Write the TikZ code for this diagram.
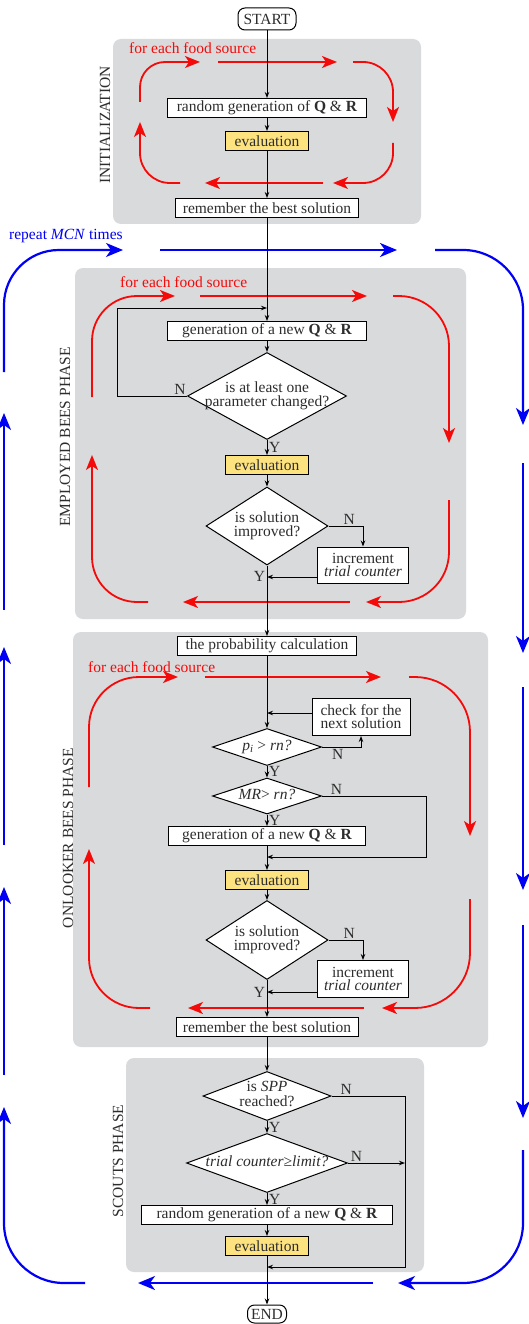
\documentclass[tikz,border=0pt]{standalone}
\usepackage{fontspec}
\setmainfont{Liberation Serif}
\usetikzlibrary{arrows.meta,shapes.geometric}
\definecolor{phasegray}{RGB}{217,218,219}
\definecolor{evalyellow}{RGB}{253,226,128}
\definecolor{txtgray}{RGB}{45,45,45}
\definecolor{srcred}{RGB}{245,10,10}
\definecolor{mcnblue}{RGB}{0,0,245}
\newcommand{\decisiontext}[1]{\makebox[0pt]{\begin{tabular}{@{}c@{}}#1\end{tabular}}}
\tikzset{
	box/.style={draw,rectangle,fill=white,align=center,line width=1pt,inner sep=2pt,minimum height=19pt,text=txtgray},
	evalbox/.style={box,fill=evalyellow,minimum width=83pt},
	terminal/.style={box,rounded corners=7pt},
	decision/.style={draw,diamond,fill=white,line width=1pt,inner sep=0pt,text=txtgray},
	phase/.style={fill=phasegray,rounded corners=8pt},
	phaselabel/.style={rotate=90,text=txtgray},
	yn/.style={text=txtgray,inner sep=1.5pt},
	flow/.style={line width=1pt,-{Stealth[length=6pt,width=4.5pt]}},
	srcarrow/.style={srcred,line width=1.8pt,-{Stealth[length=15pt,width=12pt,inset=4pt]}},
	mcnarrow/.style={mcnblue,line width=2.2pt,-{Stealth[length=17pt,width=14pt,inset=5pt]}}
}
\begin{document}
\begin{tikzpicture}[x=1pt,y=-1pt,every node/.append style={font=\fontsize{15.5}{13}\selectfont}]
	\useasboundingbox (0,0) rectangle (529,1324);
	
	% phase backgrounds
	\fill[phase] (113,39) rectangle (421,224);
	\fill[phase] (75,268) rectangle (466,619);
	\fill[phase] (73,632) rectangle (488,1047);
	\fill[phase] (126,1058) rectangle (424,1272);
	
	\node[phaselabel] (linit) at (105,125) {INITIALIZATION};
	\node[phaselabel] (lemp) at (65,437) {EMPLOYED BEES PHASE};
	\node[phaselabel] (lonl) at (68,838) {ONLOOKER BEES PHASE};
	\node[phaselabel] (lsct) at (118,1161) {SCOUTS PHASE};
	
	% for each food source
	\node[anchor=west,text=srcred,inner sep=0pt] (fe0) at (129,48) {for each food source};
	\draw[srcarrow,rounded corners=25pt] (140,102) |- (200,62);
	\draw[srcarrow] (218,62) -- (337,62);
	\draw[srcarrow,rounded corners=30pt] (353,62) -| (393,122);
	\draw[srcarrow,rounded corners=30pt] (393,143) |- (333,183);
	\draw[srcarrow] (323,183) -- (205,183);
	\draw[srcarrow,rounded corners=30pt] (180,183) -| (140,122);
	
	\node[anchor=west,text=srcred,inner sep=0pt] (fe1) at (120,282) {for each food source};
	\draw[srcarrow,rounded corners=45pt] (92,397) |- (175,296);
	\draw[srcarrow] (200,296) -- (367,296);
	\draw[srcarrow,rounded corners=50pt] (393,296) -| (449,443);
	\draw[srcarrow,rounded corners=50pt] (449,500) |- (366,602);
	\draw[srcarrow] (350,602) -- (183,602);
	\draw[srcarrow,rounded corners=45pt] (148,602) -| (92,455);
	
	\node[anchor=west,text=srcred,inner sep=0pt] (fe2) at (88,667) {for each food source};
	\draw[srcarrow,rounded corners=50pt] (89,787) |- (178,677);
	\draw[srcarrow] (205,677) -- (381,677);
	\draw[srcarrow,rounded corners=55pt] (409,677) -| (470,836);
	\draw[srcarrow,rounded corners=55pt] (470,899) |- (382,1008);
	\draw[srcarrow] (364,1008) -- (188,1008);
	\draw[srcarrow,rounded corners=50pt] (150,1008) -| (89,849);
	
	% repeat MCN times
	\node[anchor=west,text=mcnblue,inner sep=0pt] (rep) at (9,236) {repeat \textit{MCN} times};
	\draw[mcnarrow,rounded corners=55pt] (4,372) |- (123,250);
	\draw[mcnarrow] (160,250) -- (397,250);
	\draw[mcnarrow,rounded corners=60pt] (435,250) -| (523,425);
	\draw[mcnarrow] (523,463) -- (523,653);
	\draw[mcnarrow] (523,687) -- (523,890);
	\draw[mcnarrow] (523,925) -- (523,1118);
	\draw[mcnarrow,rounded corners=60pt] (523,1150) |- (398,1283);
	\draw[mcnarrow] (373,1283) -- (138,1283);
	\draw[mcnarrow,rounded corners=60pt] (85,1283) -| (4,1107);
	\draw[mcnarrow] (4,1075) -- (4,887);
	\draw[mcnarrow] (4,845) -- (4,647);
	\draw[mcnarrow] (4,610) -- (4,413);
	
	% initialization
	\node[terminal,minimum width=58pt,minimum height=22pt] (start) at (267,19) {START};
	\node[box,minimum width=199pt] (rgen) at (267,108) {random generation of \textbf{Q} \& \textbf{R}};
	\node[evalbox] (eval0) at (267,141) {evaluation};
	\node[box,minimum width=183pt] (best0) at (267,208) {remember the best solution};
	
	% employed bees
	\node[box,minimum width=199pt] (gen1) at (267,331) {generation of a new \textbf{Q} \& \textbf{R}};
	\node[decision,minimum width=159pt,minimum height=87pt] (chg) at (267,396) {\decisiontext{is at least one\\parameter changed?}};
	\node[evalbox] (eval1) at (267,465) {evaluation};
	\node[decision,minimum width=122pt,minimum height=78pt] (imp1) at (267,526) {\decisiontext{is solution\\improved?}};
	\node[box,minimum width=91pt,minimum height=36pt] (inc1) at (363,565) {increment\\\textit{trial counter}};
	
	% onlooker bees
	\node[box,minimum width=179pt] (prob) at (267,646) {the probability calculation};
	\node[box,minimum width=98pt,minimum height=37pt] (chk) at (361,717) {check for the\\next solution};
	\node[decision,minimum width=109pt,minimum height=37pt] (pi) at (267,747) {\decisiontext{\textit{p}\textsubscript{\textit{i}} > \textit{rn?}}};
	\node[decision,minimum width=109pt,minimum height=36pt] (mr) at (267,796) {\decisiontext{\textit{MR}> \textit{rn?}}};
	\node[box,minimum width=197pt] (gen2) at (267,836) {generation of a new \textbf{Q} \& \textbf{R}};
	\node[evalbox] (eval2) at (267,880) {evaluation};
	\node[decision,minimum width=122pt,minimum height=79pt] (imp2) at (267,940) {\decisiontext{is solution\\improved?}};
	\node[box,minimum width=91pt,minimum height=37pt] (inc2) at (363,979) {increment\\\textit{trial counter}};
	\node[box,minimum width=182pt] (best2) at (267,1027) {remember the best solution};
	
	% scouts
	\node[decision,minimum width=128pt,minimum height=49pt] (spp) at (267,1096) {\decisiontext{is \textit{SPP}\\reached?}};
	\node[decision,minimum width=161pt,minimum height=59pt] (lim) at (267,1163) {\decisiontext{\textit{trial counter≥limit?}}};
	\node[box,minimum width=251pt] (rgen3) at (267,1215) {random generation of a new \textbf{Q} \& \textbf{R}};
	\node[evalbox] (eval3) at (267,1246) {evaluation};
	\node[terminal,minimum width=39pt,minimum height=18pt] (end) at (267,1314) {END};
	
	% junctions
	\coordinate (n1) at (117,308);
	\coordinate (j1) at (267,308);
	\coordinate (j2) at (267,577);
	\coordinate (j3) at (267,713);
	\coordinate (n4) at (426,857);
	\coordinate (j4) at (267,857);
	\coordinate (j5) at (267,992);
	\coordinate (n6) at (405,1267);
	\coordinate (j6) at (267,1267);
	
	\draw[flow] (start) -- (rgen);
	\draw[flow] (rgen) -- (eval0);
	\draw[flow] (eval0) -- (best0);
	\draw[flow] (best0) -- (gen1);
	
	\draw[flow] (gen1) -- (chg);
	\draw[flow] (chg.west) -| node[yn,pos=0.05,above]{N} (n1) -- (j1);
	\draw[flow] (chg) -- node[yn,right]{Y} (eval1);
	\draw[flow] (eval1) -- (imp1);
	\draw[flow] (imp1.east) -| node[yn,pos=0.3,above]{N} (inc1);
	\draw[flow] (inc1.west |- j2) -- (j2);
	\draw[flow] (imp1) -- node[yn,pos=0.15,left]{Y} (prob);
	
	\draw[flow] (prob) -- (pi);
	\draw[flow] (chk.west |- j3) -- (j3);
	\draw[flow] (pi.east) -| node[yn,pos=0.2,below]{N} (chk);
	\draw[flow] (pi) -- node[yn,right]{Y} (mr);
	\draw[flow] (mr.east) -| node[yn,pos=0.07,above]{N} (n4) -- (j4);
	\draw[flow] (mr) -- node[yn,right]{Y} (gen2);
	\draw[flow] (gen2) -- (eval2);
	\draw[flow] (eval2) -- (imp2);
	\draw[flow] (imp2.east) -| node[yn,pos=0.3,above]{N} (inc2);
	\draw[flow] (inc2.west |- j5) -- (j5);
	\draw[flow] (imp2) -- node[yn,pos=0.34,left]{Y} (best2);
	
	\draw[flow] (best2) -- (spp);
	\draw[flow] (spp.east) -| node[yn,pos=0.1,above]{N} (n6) -- (j6);
	\draw[flow] (spp) -- node[yn,right]{Y} (lim);
	\draw[flow] (lim.east) -- node[yn,pos=0.15,above]{N} (lim.east -| n6);
	\draw[flow] (lim) -- node[yn,right]{Y} (rgen3);
	\draw[flow] (rgen3) -- (eval3);
	\draw[flow] (eval3) -- (end);
\end{tikzpicture}
\end{document}
